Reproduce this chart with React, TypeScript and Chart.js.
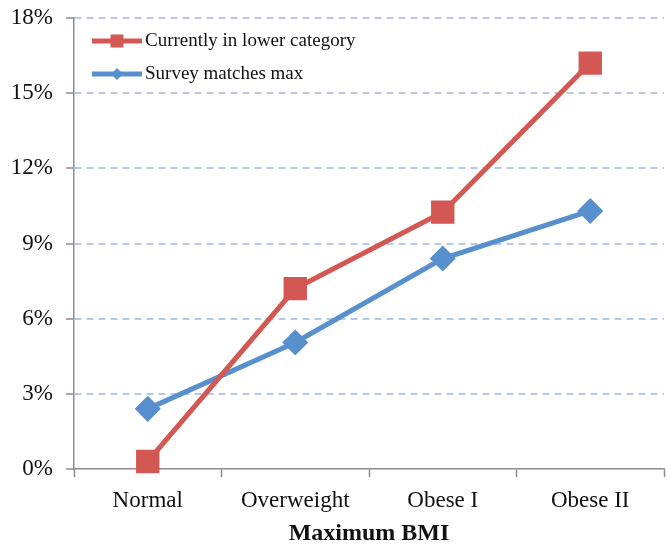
import React, { useEffect, useRef } from "react";
import { Chart, registerables } from "chart.js";

Chart.register(...registerables);

const categories = ["Normal", "Overweight", "Obese I", "Obese II"];
const lowerCategory = [0.3, 7.2, 10.25, 16.2];
const surveyMatches = [2.4, 5.05, 8.4, 10.3];
const seriesNames = ["Currently in lower category", "Survey matches max"];
const yTicks = [0, 3, 6, 9, 12, 15, 18];

const RED = "#d35853";
const BLUE = "#5790cd";
const FONT = "'Liberation Serif', 'Times New Roman', serif";

const insideLegend = {
  id: "insideLegend",
  afterDraw(chart: any) {
    const ctx = chart.ctx as CanvasRenderingContext2D;
    const ds = chart.data.datasets;
    const x0 = 92;
    const x1 = 142;
    const ys = [41, 74];
    ctx.save();
    ds.forEach((d: any, i: number) => {
      const y = ys[i];
      ctx.strokeStyle = d.borderColor;
      ctx.lineWidth = 5;
      ctx.beginPath();
      ctx.moveTo(x0, y);
      ctx.lineTo(x1, y);
      ctx.stroke();
      ctx.fillStyle = d.pointBackgroundColor;
      const cx = (x0 + x1) / 2;
      if (d.pointStyle === "rect") {
        ctx.fillRect(cx - 6.5, y - 6.5, 13, 13);
      } else {
        ctx.beginPath();
        ctx.moveTo(cx, y - 6);
        ctx.lineTo(cx + 6, y);
        ctx.lineTo(cx, y + 6);
        ctx.lineTo(cx - 6, y);
        ctx.closePath();
        ctx.fill();
      }
      ctx.fillStyle = "#111";
      ctx.font = `19px ${FONT}`;
      ctx.textBaseline = "middle";
      ctx.textAlign = "left";
      ctx.fillText(d.label, 145, y);
    });
    ctx.restore();
  },
};

export default function App() {
  const ref = useRef<HTMLCanvasElement | null>(null);
  useEffect(() => {
    document.body.style.margin = "0";
    if (!ref.current) return;
    const chart = new Chart(ref.current, {
      type: "line",
      data: {
        labels: categories,
        datasets: [
          {
            label: seriesNames[0],
            data: lowerCategory,
            borderColor: RED,
            backgroundColor: RED,
            pointBackgroundColor: RED,
            pointBorderColor: RED,
            pointStyle: "rect",
            pointRadius: 13,
            borderWidth: 5,
            tension: 0,
            clip: false,
          },
          {
            label: seriesNames[1],
            data: surveyMatches,
            borderColor: BLUE,
            backgroundColor: BLUE,
            pointBackgroundColor: BLUE,
            pointBorderColor: BLUE,
            pointStyle: "rectRot",
            pointRadius: 9.5,
            borderWidth: 5,
            tension: 0,
            clip: false,
          },
        ],
      },
      options: {
        animation: false,
        responsive: false,
        devicePixelRatio: 1,
        layout: { autoPadding: false, padding: { top: 18, right: 3, left: 0, bottom: 0 } },
        plugins: {
          legend: { display: false },
          tooltip: { enabled: false },
        },
        scales: {
          x: {
            type: "category",
            offset: true,
            grid: {
              offset: true,
              drawOnChartArea: false,
              drawTicks: true,
              tickLength: 8,
              tickColor: "#8c8c8c",
              tickWidth: 1.5,
            },
            border: { display: true, color: "#8c8c8c", width: 1.5 },
            ticks: {
              color: "#111",
              font: { family: FONT, size: 23 },
              padding: 10,
              maxRotation: 0,
            },
            title: {
              display: true,
              text: "Maximum BMI",
              color: "#111",
              font: { family: FONT, size: 24, weight: "bold" },
              padding: { top: 0, bottom: 0 },
            },
            afterFit(scale: any) {
              scale.height = 79;
              scale.paddingLeft = 0;
              scale.paddingRight = 0;
            },
          },
          y: {
            min: 0,
            max: 18,
            afterBuildTicks(scale: any) {
              scale.ticks = yTicks.map((v) => ({ value: v }));
            },
            grid: {
              color: (c: any) => (c.tick && c.tick.value === 0 ? "rgba(0,0,0,0)" : "#b4caee"),
              lineWidth: 2,
              tickColor: "#8c8c8c",
              tickBorderDash: [],
              tickLength: 8,
              tickWidth: 1.5,
            },
            border: { display: true, color: "#8c8c8c", width: 1.5, dash: [7, 5] },
            ticks: {
              color: "#111",
              font: { family: FONT, size: 23 },
              padding: 13,
              callback: (v: any) => `${v}%`,
            },
            afterFit(scale: any) {
              scale.width = 74;
              scale.paddingTop = 0;
              scale.paddingBottom = 0;
            },
          },
        },
      },
      plugins: [insideLegend],
    } as any);
    return () => chart.destroy();
  }, []);
  return <canvas ref={ref} width={667} height={548} style={{ display: "block" }} />;
}
